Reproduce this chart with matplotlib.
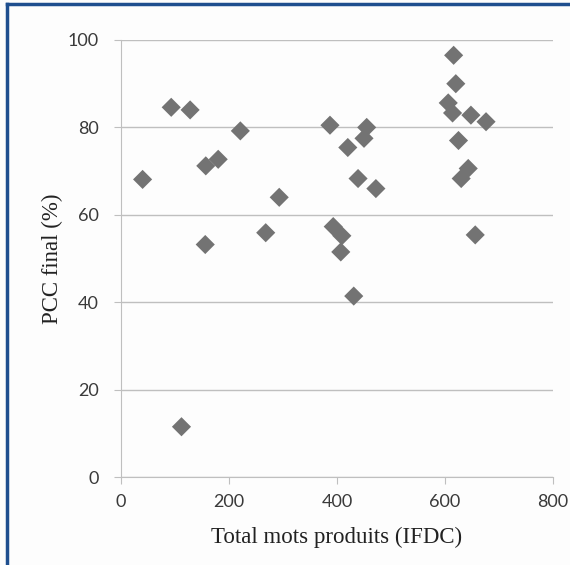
import matplotlib
matplotlib.use("Agg")
import matplotlib.pyplot as plt
from matplotlib.lines import Line2D

# total words produced (IFDC) vs final PCC (%)
mots = [40, 93, 128, 112, 157, 180, 156, 221, 268, 293,
        387, 393, 407, 409, 420, 431, 439, 450, 455, 472,
        606, 614, 616, 620, 625, 630, 643, 648, 656, 676]
pcc = [68.1, 84.6, 84.0, 11.5, 71.2, 72.7, 53.2, 79.2, 55.9, 64.0,
       80.5, 57.3, 51.5, 55.2, 75.4, 41.4, 68.3, 77.5, 80.0, 66.0,
       85.6, 83.3, 96.5, 90.0, 77.0, 68.3, 70.6, 82.8, 55.4, 81.3]

xticks = [0, 200, 400, 600, 800]
yticks = [0, 20, 40, 60, 80, 100]

fig = plt.figure(figsize=(5.70, 5.65), dpi=100)
fig.patch.set_facecolor("#fdfdfd")
ax = fig.add_axes([121 / 570, 1 - 477 / 565, 432 / 570, 437 / 565])
ax.set_facecolor("#fdfdfd")

ax.scatter(mots, pcc, marker="D", s=95, color="#737373", edgecolors="none", zorder=3)

ax.set_xlim(0, 800)
ax.set_ylim(0, 100)
ax.set_xticks(xticks)
ax.set_yticks(yticks)
ax.grid(axis="y", color="#bfbfbf", linewidth=1)
ax.set_axisbelow(True)
for side in ["top", "right"]:
    ax.spines[side].set_visible(False)
for side in ["left", "bottom"]:
    ax.spines[side].set_color("#bfbfbf")
ax.tick_params(axis="both", colors="#bfbfbf", length=5, labelcolor="#3a3a3a",
               labelsize=13)
for lab in ax.get_xticklabels() + ax.get_yticklabels():
    lab.set_fontfamily("Lato")
ax.tick_params(axis="x", pad=7)
ax.tick_params(axis="y", pad=11)

serif = {"family": "Liberation Serif", "size": 16.5, "color": "#222222"}
ax.set_xlabel("Total mots produits (IFDC)", fontdict=serif, labelpad=12)
ax.set_ylabel("PCC final (%)", fontdict=serif, labelpad=3)

# blue frame on the left and top
blue = "#1f4f8f"
fig.add_artist(Line2D([6.5 / 570, 6.5 / 570], [0, 1 - 4 / 565], color=blue, linewidth=2.5,
                      transform=fig.transFigure))
fig.add_artist(Line2D([6.5 / 570, 1], [1 - 4 / 565, 1 - 4 / 565], color=blue, linewidth=2.5,
                      transform=fig.transFigure))

fig.savefig("out.png", dpi=100, facecolor=fig.get_facecolor())
